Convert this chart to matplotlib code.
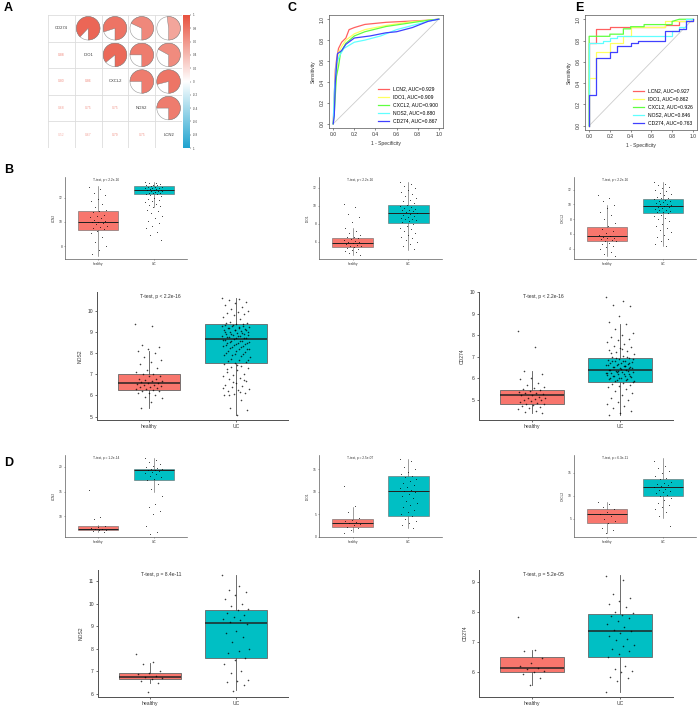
import numpy as np
import matplotlib
matplotlib.use("Agg")
import matplotlib.pyplot as plt
from matplotlib.patches import Wedge, Circle
from matplotlib.colors import LinearSegmentedColormap, Normalize
from matplotlib.transforms import blended_transform_factory

plt.rcParams['font.family'] = ['Liberation Sans', 'DejaVu Sans']

W, H = 700, 706

# ---------------- panel A data ----------------
genes = ["CD274", "IDO1", "CXCL2", "NOS2", "LCN2"]
corr = np.array([
    [1.00, 0.88, 0.80, 0.68, 0.52],
    [0.88, 1.00, 0.86, 0.75, 0.67],
    [0.80, 0.86, 1.00, 0.75, 0.79],
    [0.68, 0.75, 0.75, 1.00, 0.75],
    [0.52, 0.67, 0.79, 0.75, 1.00],
])
cbar_ticks = [1, 0.8, 0.6, 0.4, 0.2, 0, -0.2, -0.4, -0.6, -0.8, -1]

# ---------------- ROC data (panel C, E) ----------------
roc_names = ["LCN2", "IDO1", "CXCL2", "NOS2", "CD274"]
roc_colors = ["#FF6060", "#FFFF60", "#60FF40", "#60FFFF", "#4040FF"]
auc_c = [0.929, 0.909, 0.900, 0.880, 0.867]
auc_e = [0.927, 0.862, 0.926, 0.846, 0.763]

c_fpr = [
    [0, 0.01, 0.02, 0.03, 0.05, 0.08, 0.12, 0.15, 0.2, 0.3, 0.5, 0.7, 0.9, 1],
    [0, 0.01, 0.03, 0.05, 0.08, 0.12, 0.2, 0.3, 0.5, 0.7, 0.9, 1],
    [0, 0.01, 0.03, 0.05, 0.07, 0.12, 0.2, 0.3, 0.5, 0.7, 0.9, 1],
    [0, 0.01, 0.03, 0.06, 0.1, 0.2, 0.3, 0.45, 0.6, 0.75, 0.9, 1],
    [0, 0.01, 0.02, 0.04, 0.08, 0.12, 0.2, 0.35, 0.5, 0.6, 0.75, 0.9, 1],
]
c_tpr = [
    [0, 0.27, 0.52, 0.6, 0.72, 0.78, 0.82, 0.9, 0.92, 0.95, 0.97, 0.98, 0.99, 1],
    [0, 0.2, 0.5, 0.68, 0.74, 0.8, 0.86, 0.9, 0.94, 0.97, 0.99, 1],
    [0, 0.1, 0.45, 0.55, 0.68, 0.77, 0.84, 0.88, 0.93, 0.96, 0.99, 1],
    [0, 0.3, 0.58, 0.65, 0.72, 0.78, 0.8, 0.84, 0.9, 0.94, 0.98, 1],
    [0, 0.08, 0.4, 0.67, 0.7, 0.76, 0.82, 0.84, 0.87, 0.88, 0.92, 0.98, 1],
]

e_fpr = [
    [0, 0, 0.067, 0.067, 0.2, 0.2, 0.73, 0.73, 0.87, 0.87, 1, 1],
    [0, 0, 0.067, 0.067, 0.2, 0.2, 0.33, 0.33, 0.4, 0.4, 0.73, 0.73, 1, 1],
    [0, 0, 0.2, 0.2, 0.33, 0.33, 0.4, 0.4, 0.53, 0.53, 0.8, 0.8, 0.87, 1],
    [0, 0, 0.13, 0.13, 0.2, 0.2, 0.27, 0.27, 0.8, 0.8, 0.87, 0.87, 0.93, 0.93, 1],
    [0, 0, 0.067, 0.067, 0.2, 0.2, 0.27, 0.27, 0.4, 0.4, 0.47, 0.47, 0.73, 0.73,
     0.87, 0.87, 0.93, 0.93, 1, 1],
]
e_tpr = [
    [0, 0.78, 0.78, 0.91, 0.91, 0.93, 0.93, 0.95, 0.95, 0.98, 0.98, 1],
    [0, 0.45, 0.45, 0.69, 0.69, 0.78, 0.78, 0.84, 0.84, 0.93, 0.93, 0.98, 0.98, 1],
    [0, 0.84, 0.84, 0.86, 0.86, 0.91, 0.91, 0.93, 0.93, 0.95, 0.95, 0.98, 1.0, 1],
    [0, 0.78, 0.78, 0.80, 0.80, 0.82, 0.82, 0.84, 0.84, 0.89, 0.89, 0.93, 0.93, 1.0, 1],
    [0, 0.29, 0.29, 0.64, 0.64, 0.69, 0.69, 0.75, 0.75, 0.78, 0.78, 0.80, 0.80, 0.89,
     0.89, 0.91, 0.91, 0.98, 0.98, 1],
]

# ---------------- box plot data (B, D) ----------------
groups = ["healthy", "UC"]
# box stats: q1, median, q3, lower whisker, upper whisker
b_lcn2_box = [[9.35, 10.0, 10.92, 7.24, 12.92], [12.27, 12.6, 12.95, 11.25, 13.3]]
b_lcn2_h = [12.9, 12.7, 12.4, 12.2, 11.9, 11.7, 11.5, 11.2, 11.0, 10.9, 10.8, 10.6,
            10.5, 10.4, 10.3, 10.2, 10.1, 10.0, 10.0, 9.9, 9.8, 9.7, 9.6, 9.5, 9.4,
            9.3, 9.1, 8.8, 8.4, 8.0, 7.7, 7.4]
b_lcn2_uc = [13.25, 13.2, 13.15, 13.1, 13.05, 13.0, 13.0, 12.95, 12.9, 12.9, 12.85,
             12.8, 12.8, 12.75, 12.7, 12.7, 12.65, 12.6, 12.6, 12.55, 12.5, 12.5,
             12.45, 12.4, 12.4, 12.35, 12.3, 12.25, 12.2, 12.1, 12.0, 11.9, 11.8,
             11.7, 11.6, 11.5, 11.4, 11.3, 11.2, 11.0, 10.9, 10.7, 10.5, 10.3, 10.1,
             9.9, 9.7, 9.5, 9.2, 8.9, 8.5]

b_ido1_box = [[5.43, 5.91, 6.42, 4.59, 7.52], [8.07, 9.17, 10.09, 5.14, 12.66]]
b_ido1_h = [10.2, 9.9, 9.06, 8.8, 8.2, 7.5, 7.2, 7.0, 6.8, 6.6, 6.5, 6.4, 6.3, 6.2,
            6.1, 6.0, 5.95, 5.9, 5.8, 5.7, 5.6, 5.5, 5.4, 5.3, 5.2, 5.1, 5.0, 4.9,
            4.8, 4.6]
b_ido1_uc = [12.6, 12.4, 12.2, 12.0, 11.8, 11.5, 11.3, 11.1, 10.9, 10.7, 10.5, 10.3,
             10.1, 10.0, 9.9, 9.8, 9.7, 9.6, 9.5, 9.4, 9.3, 9.2, 9.1, 9.0, 8.9, 8.8,
             8.7, 8.6, 8.5, 8.4, 8.3, 8.2, 8.0, 7.8, 7.6, 7.4, 7.2, 7.0, 6.8, 6.6,
             6.4, 6.2, 6.0, 5.8, 5.5, 5.2]

b_cxcl2_box = [[4.98, 5.65, 6.9, 3.05, 9.9], [8.78, 9.76, 10.66, 4.3, 13.03]]
b_cxcl2_h = [11.2, 10.9, 10.4, 9.9, 9.5, 9.0, 8.5, 8.0, 7.5, 7.0, 6.7, 6.4, 6.1, 5.9,
             5.7, 5.6, 5.5, 5.4, 5.3, 5.2, 5.1, 5.0, 4.8, 4.6, 4.4, 4.2, 3.9, 3.6,
             3.3, 3.0]
b_cxcl2_uc = [13.0, 12.8, 12.6, 12.4, 12.2, 12.0, 11.8, 11.6, 11.4, 11.2, 11.0, 10.9,
              10.8, 10.7, 10.6, 10.5, 10.4, 10.3, 10.2, 10.1, 10.0, 9.9, 9.8, 9.7,
              9.6, 9.5, 9.4, 9.3, 9.2, 9.1, 9.0, 8.9, 8.8, 8.6, 8.4, 8.2, 8.0, 7.7,
              7.4, 7.1, 6.8, 6.5, 6.2, 5.9, 5.6, 5.3, 5.0, 4.6, 4.3]

b_nos2_box = [[6.26, 6.57, 7.0, 5.43, 8.13], [7.52, 8.69, 9.37, 5.08, 10.6]]
b_nos2_h = [9.4, 9.3, 8.4, 8.3, 8.2, 8.1, 8.0, 7.8, 7.7, 7.6, 7.5, 7.3, 7.2, 7.1, 7.0,
            7.0, 6.9, 6.9, 6.8, 6.8, 6.75, 6.7, 6.7, 6.65, 6.6, 6.6, 6.55, 6.5, 6.5,
            6.45, 6.4, 6.4, 6.35, 6.3, 6.3, 6.25, 6.2, 6.2, 6.1, 6.1, 6.0, 5.95, 5.9,
            5.7, 5.4]
b_nos2_uc = [10.6, 10.55, 10.5, 10.45, 10.4, 10.3, 10.2, 10.1, 10.0, 9.95, 9.9, 9.85,
             9.8, 9.7, 9.6, 9.5, 9.45, 9.4, 9.35, 9.3, 9.3, 9.25, 9.2, 9.2, 9.15, 9.1,
             9.1, 9.05, 9.0, 9.0, 8.95, 8.9, 8.9, 8.85, 8.8, 8.8, 8.75, 8.7, 8.7,
             8.65, 8.6, 8.6, 8.55, 8.5, 8.5, 8.45, 8.4, 8.35, 8.3, 8.25, 8.2, 8.1,
             8.0, 7.95, 7.9, 7.8, 7.7, 7.65, 7.6, 7.55, 7.5, 7.4, 7.35, 7.3, 7.2,
             7.1, 7.0, 6.95, 6.9, 6.85, 6.8, 6.7, 6.6, 6.5, 6.45, 6.4, 6.3, 6.25,
             6.2, 6.1, 6.05, 6.0, 5.8, 5.4, 5.3, 5.1,
             9.42, 9.38, 9.33, 9.28, 9.22, 9.18, 9.12, 9.08, 9.02, 8.98, 8.92, 8.88,
             8.82, 8.78, 8.72, 8.68, 8.62, 8.58, 8.52, 8.48, 8.42, 8.38, 8.32, 8.28,
             8.22, 8.18, 8.12, 8.05, 7.98, 7.92, 7.85, 7.75, 7.68, 7.45, 7.25, 6.75,
             6.65, 6.35, 6.15, 6.02]

b_cd274_box = [[4.8, 5.2, 5.44, 4.38, 6.33], [5.83, 6.36, 6.92, 4.3, 8.52]]
b_cd274_h = [8.2, 7.45, 6.35, 6.2, 6.0, 5.95, 5.8, 5.7, 5.6, 5.55, 5.5, 5.45, 5.4,
             5.35, 5.3, 5.3, 5.25, 5.2, 5.2, 5.15, 5.1, 5.1, 5.05, 5.0, 5.0, 4.95,
             4.9, 4.85, 4.8, 4.8, 4.75, 4.7, 4.65, 4.6, 4.55, 4.5, 4.45, 4.4]
b_cd274_uc = [9.75, 9.6, 9.4, 9.35, 8.9, 8.6, 8.5, 8.3, 8.1, 8.0, 7.9, 7.8, 7.75, 7.7,
              7.6, 7.5, 7.45, 7.4, 7.3, 7.25, 7.2, 7.1, 7.05, 7.0, 6.95, 6.9, 6.85,
              6.8, 6.8, 6.75, 6.7, 6.7, 6.65, 6.6, 6.6, 6.55, 6.5, 6.5, 6.45, 6.4,
              6.4, 6.35, 6.3, 6.3, 6.25, 6.2, 6.2, 6.15, 6.1, 6.1, 6.05, 6.0, 6.0,
              5.95, 5.9, 5.85, 5.8, 5.75, 5.7, 5.65, 5.6, 5.5, 5.4, 5.3, 5.2, 5.1,
              5.0, 4.9, 4.8, 4.7, 4.6, 4.5, 4.4, 4.3,
              6.98, 6.92, 6.88, 6.82, 6.78, 6.72, 6.68, 6.62, 6.58, 6.52, 6.48, 6.42,
              6.38, 6.32, 6.28, 6.22, 6.18, 6.12, 6.08, 6.02, 5.98, 5.92, 5.88, 5.82,
              7.35, 7.15, 6.45, 6.35, 6.25, 6.55]

d_lcn2_box = [[7.16, 7.5, 7.97, 6.8, 8.2], [17.4, 19.3, 19.66, 14.9, 21.7]]
d_lcn2_h = [15.27, 9.86, 9.5, 8.1, 7.9, 7.7, 7.5, 7.4, 7.3, 7.2, 7.0, 6.9]
d_lcn2_uc = [21.7, 21.4, 21.0, 20.6, 20.2, 19.9, 19.7, 19.6, 19.5, 19.4, 19.3, 19.2,
             19.0, 18.8, 18.5, 18.2, 17.9, 17.6, 17.3, 16.5, 15.5, 14.2, 12.5, 11.8,
             11.0, 10.4, 8.0, 6.8, 6.5]

d_ido1_box = [[2.11, 3.0, 3.89, 0.93, 6.56], [4.63, 10.26, 13.5, 1.9, 17.2]]
d_ido1_h = [11.3, 6.8, 5.5, 4.2, 3.8, 3.5, 3.2, 3.0, 2.8, 2.5, 2.2, 2.0, 1.5, 0.9]
d_ido1_uc = [17.2, 16.8, 15.5, 15.0, 14.5, 14.0, 13.5, 13.2, 12.8, 12.5, 12.0, 11.5,
             11.0, 10.8, 10.5, 10.2, 10.0, 9.5, 9.0, 8.5, 8.0, 7.5, 7.0, 6.5, 6.0,
             5.5, 5.0, 4.5, 4.0, 3.5, 3.0, 2.5, 2.0]

d_cxcl2_box = [[4.06, 6.0, 7.09, 1.9, 8.6], [9.96, 11.83, 13.56, 5.14, 18.1]]
d_cxcl2_h = [8.6, 8.2, 7.5, 7.0, 6.5, 6.0, 5.6, 5.0, 4.5, 4.0, 3.0, 2.5, 1.9]
d_cxcl2_uc = [17.5, 16.5, 16.0, 15.3, 14.8, 14.2, 13.8, 13.5, 13.0, 12.8, 12.5, 12.2,
              12.0, 11.8, 11.5, 11.2, 11.0, 10.8, 10.5, 10.2, 10.0, 9.5, 9.0, 8.5,
              8.0, 7.5, 7.0, 6.5, 5.5, 3.5]

d_nos2_box = [[6.67, 6.74, 6.93, 6.45, 7.34], [7.6, 9.12, 9.71, 6.15, 11.27]]
d_nos2_h = [7.78, 7.4, 7.3, 7.0, 6.9, 6.85, 6.8, 6.75, 6.7, 6.65, 6.55, 6.45, 6.07]
d_nos2_uc = [11.27, 10.8, 10.6, 10.5, 10.4, 10.2, 10.0, 9.9, 9.75, 9.7, 9.6, 9.5, 9.4,
             9.3, 9.25, 9.2, 9.1, 8.8, 8.7, 8.5, 8.3, 8.0, 7.9, 7.8, 7.6, 7.5, 7.3,
             7.0, 6.9, 6.6, 6.55, 6.5, 6.4, 6.1]

d_cd274_box = [[6.0, 6.14, 6.5, 5.56, 6.74], [6.5, 7.36, 7.94, 5.33, 9.22]]
d_cd274_h = [7.83, 6.74, 6.7, 6.45, 6.3, 6.2, 6.15, 6.1, 6.05, 6.0, 5.95, 5.8, 5.56]
d_cd274_uc = [9.2, 9.05, 8.6, 8.45, 8.35, 8.25, 8.15, 8.0, 7.95, 7.9, 7.85, 7.8, 7.7,
              7.6, 7.5, 7.4, 7.35, 7.3, 7.2, 7.1, 7.05, 6.9, 6.85, 6.75, 6.7, 6.6,
              6.5, 6.2, 6.1, 6.05, 6.0, 5.85, 5.8, 5.7, 5.33]

ttest_b = "T-test, p < 2.2e-16"
ttest_d = ["T-test, p = 1.2e-14", "T-test, p = 2.5e-07", "T-test, p = 6.3e-11",
           "T-test, p = 8.4e-11", "T-test, p = 5.2e-05"]


def rect(x0, y0, x1, y1):
    # pixel box -> figure fraction
    return [x0 / W, 1 - y1 / H, (x1 - x0) / W, (y1 - y0) / H]


fig = plt.figure(figsize=(7.0, 7.06), dpi=100)

# ---------------- A: corrplot ----------------
cmap = LinearSegmentedColormap.from_list("cor", ["#1FA3CF", "#FFFFFF", "#E8523F"])
norm = Normalize(-1, 1)
axA = fig.add_axes(rect(48, 15, 182, 148))
axA.set_xlim(0, 5)
axA.set_ylim(5, 0)
for k in range(6):
    axA.plot([k, k], [0, 5], color="#DDDDDD", lw=0.6)
    axA.plot([0, 5], [k, k], color="#DDDDDD", lw=0.6)
n = len(genes)
for i in range(n):
    for j in range(n):
        v = corr[i, j]
        cx, cy = j + 0.5, i + 0.5
        if i == j:
            axA.text(cx, cy, genes[i], ha="center", va="center", fontsize=3, color="#333333")
        elif i > j:
            axA.text(cx, cy, "%.2f" % v, ha="center", va="center", fontsize=2.4,
                     color=cmap(norm(v * 0.8)))
        else:
            axA.add_patch(Circle((cx, cy), 0.44, facecolor="white", edgecolor="#999999", lw=0.4))
            axA.add_patch(Wedge((cx, cy), 0.44, 90 - 360 * v, 90, facecolor=cmap(norm(v)),
                                edgecolor="#777777", lw=0.3))
axA.axis("off")

cax = fig.add_axes(rect(183, 15, 190, 148))
grad = np.linspace(1, -1, 256).reshape(-1, 1)
cax.imshow(grad, aspect="auto", cmap=cmap, norm=norm, extent=[0, 1, -1, 1])
cax.set_xticks([])
cax.yaxis.tick_right()
cax.set_yticks(cbar_ticks)
cax.set_yticklabels([("%g" % t) for t in cbar_ticks], fontsize=2.2, color="#444444")
cax.tick_params(axis="y", length=1, width=0.3, pad=1)
for s in cax.spines.values():
    s.set_visible(False)


# ---------------- C, E: ROC ----------------
def roc_panel(r, fprs, tprs, aucs):
    ax = fig.add_axes(r)
    ax.plot([0, 1], [0, 1], color="#CCCCCC", lw=0.6)
    for f, t, c, name, a in zip(fprs, tprs, roc_colors, roc_names, aucs):
        ax.plot(f, t, color=c, lw=0.9, label="%s, AUC=%.3f" % (name, a))
    ax.set_xlim(-0.04, 1.04)
    ax.set_ylim(-0.04, 1.04)
    ticks = [0, 0.2, 0.4, 0.6, 0.8, 1.0]
    ax.set_xticks(ticks)
    ax.set_yticks(ticks)
    ax.set_xticklabels(["%.1f" % t for t in ticks], fontsize=3.6)
    ax.set_yticklabels(["%.1f" % t for t in ticks], fontsize=3.6, rotation=90, va="center")
    ax.tick_params(length=1.5, width=0.4, pad=1.5, colors="#333333")
    ax.set_xlabel("1 - Specificity", fontsize=3.6, labelpad=3, color="#333333")
    ax.set_ylabel("Sensitivity", fontsize=3.6, labelpad=3, color="#333333")
    for s in ax.spines.values():
        s.set_linewidth(0.5)
        s.set_color("#555555")
    ax.legend(loc="lower right", fontsize=3.6, frameon=False,
              handlelength=2.2, borderpad=0.6, labelspacing=0.6,
              borderaxespad=0.3)
    return ax


roc_panel(rect(329, 15, 443, 128), c_fpr, c_tpr, auc_c)
roc_panel(rect(585, 15, 697, 130), e_fpr, e_tpr, auc_e)


# ---------------- B, D: box plots ----------------
def jitter(m, width):
    return ((np.arange(m) * 0.6180339887) % 1 - 0.5) * width


def box_panel(r, stats, pts_h, pts_uc, ylabel, title, yticks, ylim, big):
    ax = fig.add_axes(r)
    fs = 3.6 if big else 2.3
    lw = 0.6 if big else 0.4
    bstats = []
    for st in stats:
        bstats.append(dict(q1=st[0], med=st[1], q3=st[2], whislo=st[3], whishi=st[4],
                           fliers=[]))
    art = ax.bxp(bstats, positions=[1, 2], widths=0.72, patch_artist=True,
                 showcaps=False, showfliers=False,
                 boxprops=dict(edgecolor="#666666", linewidth=lw),
                 whiskerprops=dict(color="#555555", linewidth=lw),
                 medianprops=dict(color="#222222", linewidth=lw * 1.8))
    for p, c in zip(art["boxes"], ["#F8766D", "#00BFC4"]):
        p.set_facecolor(c)
    sz = 1.3 if big else 0.4
    for pos, pts in zip([1, 2], [pts_h, pts_uc]):
        xs = pos + jitter(len(pts), 0.32)
        ax.scatter(xs, pts, s=sz, color="black", alpha=0.75, linewidths=0, zorder=5)
    ax.set_xlim(0.4, 2.6)
    ax.set_ylim(*ylim)
    ax.set_xticks([1, 2])
    ax.set_xticklabels(groups, fontsize=fs, color="#333333")
    ax.set_yticks(yticks)
    ax.set_yticklabels([str(t) for t in yticks], fontsize=fs, color="#333333")
    ax.tick_params(length=1.5 if big else 1, width=lw, pad=1.5 if big else 1,
                   colors="#555555")
    for lab in ax.get_xticklabels() + ax.get_yticklabels():
        lab.set_color("#333333")
    ax.set_ylabel(ylabel, fontsize=fs, color="#333333", labelpad=3 if big else 2)
    for s in ["top", "right"]:
        ax.spines[s].set_visible(False)
    for s in ["left", "bottom"]:
        ax.spines[s].set_linewidth(lw * 1.2)
        ax.spines[s].set_color("#555555")
    tr = blended_transform_factory(ax.transData, ax.transAxes)
    ax.text(0.9, 0.965, title, transform=tr, fontsize=fs, color="#333333",
            ha="left", va="center")
    return ax


box_panel(rect(65, 177, 187, 259), b_lcn2_box, b_lcn2_h, b_lcn2_uc, "LCN2", ttest_b,
          [8, 10, 12], (6.97, 13.68), False)
box_panel(rect(319, 177, 442, 259), b_ido1_box, b_ido1_h, b_ido1_uc, "IDO1", ttest_b,
          [6, 8, 10, 12], (4.11, 13.21), False)
box_panel(rect(574, 177, 696, 259), b_cxcl2_box, b_cxcl2_h, b_cxcl2_uc, "CXCL2", ttest_b,
          [4, 6, 8, 10, 12], (2.6, 13.7), False)
box_panel(rect(97, 292, 288, 420), b_nos2_box, b_nos2_h, b_nos2_uc, "NOS2", ttest_b,
          [5, 6, 7, 8, 9, 10], (4.84, 10.9), True)
box_panel(rect(479, 292, 673, 420), b_cd274_box, b_cd274_h, b_cd274_uc, "CD274", ttest_b,
          [5, 6, 7, 8, 9, 10], (4.06, 10.0), True)

box_panel(rect(65, 455, 187, 537), d_lcn2_box, d_lcn2_h, d_lcn2_uc, "LCN2", ttest_d[0],
          [10, 15, 20], (5.8, 22.4), False)
box_panel(rect(319, 455, 442, 537), d_ido1_box, d_ido1_h, d_ido1_uc, "IDO1", ttest_d[1],
          [0, 5, 10, 15], (-0.1, 18.2), False)
box_panel(rect(574, 455, 696, 537), d_cxcl2_box, d_cxcl2_h, d_cxcl2_uc, "CXCL2", ttest_d[2],
          [5, 10, 15], (1.04, 18.8), False)
box_panel(rect(98, 570, 288, 697), d_nos2_box, d_nos2_h, d_nos2_uc, "NOS2", ttest_d[3],
          [6, 7, 8, 9, 10, 11], (5.85, 11.49), True)
box_panel(rect(479, 570, 673, 697), d_cd274_box, d_cd274_h, d_cd274_uc, "CD274", ttest_d[4],
          [6, 7, 8, 9], (5.17, 9.39), True)

# panel letters
for lab, x, y in [("A", 4, 8), ("B", 4, 170), ("C", 288, 8), ("D", 4, 463), ("E", 575, 8)]:
    fig.text(x / W, 1 - y / H, lab, fontsize=9, fontweight="bold", ha="left", va="center")

fig.savefig("out.png", dpi=100)
